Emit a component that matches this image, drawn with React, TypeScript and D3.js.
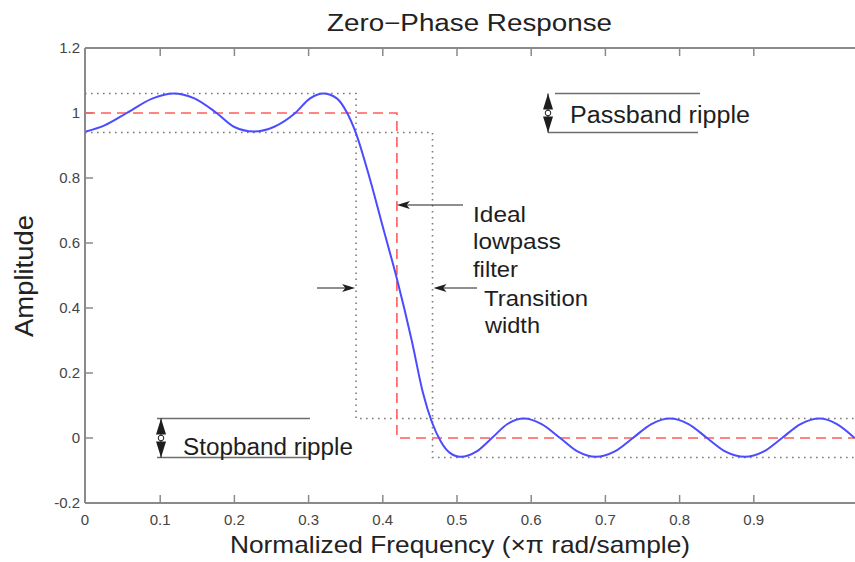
import React from "react";
import * as d3 from "d3";

// Zero-phase response samples
const freq = [0, 0.025, 0.055, 0.09, 0.118, 0.146, 0.176, 0.2, 0.226, 0.253, 0.282, 0.302, 0.32, 0.338, 0.352, 0.363, 0.383, 0.4, 0.419, 0.439, 0.454, 0.466, 0.478, 0.49, 0.505, 0.526, 0.547, 0.568, 0.59, 0.614, 0.639, 0.663, 0.687, 0.712, 0.737, 0.762, 0.787, 0.812, 0.837, 0.862, 0.888, 0.913, 0.938, 0.963, 0.989, 1.012, 1.036];
const amplitude = [0.943, 0.962, 1.0, 1.045, 1.06, 1.045, 1.0, 0.957, 0.943, 0.957, 1.0, 1.045, 1.06, 1.045, 1.0, 0.943, 0.794, 0.65, 0.49, 0.3, 0.14, 0.05, -0.01, -0.045, -0.058, -0.042, 0.0, 0.043, 0.06, 0.043, 0.0, -0.042, -0.058, -0.042, 0.0, 0.043, 0.06, 0.043, 0.0, -0.042, -0.058, -0.042, 0.0, 0.043, 0.06, 0.043, 0.0];

const xTicks = [0, 0.1, 0.2, 0.3, 0.4, 0.5, 0.6, 0.7, 0.8, 0.9];
const xTickLabels = ["0", "0.1", "0.2", "0.3", "0.4", "0.5", "0.6", "0.7", "0.8", "0.9"];
const yTicks = [-0.2, 0, 0.2, 0.4, 0.6, 0.8, 1, 1.2];
const yTickLabels = ["-0.2", "0", "0.2", "0.4", "0.6", "0.8", "1", "1.2"];

const passbandEdge = 0.364;
const cutoff = 0.419;
const stopbandEdge = 0.467;
const ripple = 0.06;

const W = 855;
const H = 562;
const FONT = "'Liberation Sans', Arial, Helvetica, sans-serif";

function arrowHead(tx: number, ty: number, dx: number, dy: number, len = 13, hw = 4) {
  const bx = tx - dx * len;
  const by = ty - dy * len;
  const px = -dy * hw;
  const py = dx * hw;
  return `${tx},${ty} ${bx + px},${by + py} ${tx - dx * len * 0.75},${ty - dy * len * 0.75} ${bx - px},${by - py}`;
}

export default function App() {
  const x = d3.scaleLinear().domain([0, 1]).range([86, 828]);
  const y = d3.scaleLinear().domain([-0.2, 1.2]).range([503, 48]);
  const left = 85;
  const right = W;
  const top = y(1.2);
  const bottom = y(-0.2);

  const pts: [number, number][] = freq.map((f, i) => [f, amplitude[i]]);
  const line = d3
    .line<[number, number]>()
    .x((d) => x(d[0]))
    .y((d) => y(d[1]))
    .curve(d3.curveMonotoneX);

  const ideal = `M${left},${y(1)} H${x(cutoff)} V${y(0)} H${right}`;
  const upperTol = `M${left},${y(1 + ripple)} H${x(passbandEdge)} V${y(ripple)} H${right}`;
  const lowerTol = `M${left},${y(1 - ripple)} H${x(stopbandEdge)} V${y(-ripple)} H${right}`;

  const axisColor = "#8a8a8a";
  const tickText = "#444";
  const textColor = "#222";
  const annColor = "#1e1e1e";
  const lineGray = "#6e6e6e";

  const doubleArrow = (cx: number, y1: number, y2: number) => {
    const mid = (y1 + y2) / 2;
    return (
      <g>
        <line x1={cx} x2={cx} y1={y1} y2={y2} stroke={annColor} strokeWidth={1} />
        <polygon points={`${cx},${y1} ${cx - 5},${y1 + 16} ${cx + 5},${y1 + 16}`} fill={annColor} />
        <polygon points={`${cx},${y2} ${cx - 5},${y2 - 16} ${cx + 5},${y2 - 16}`} fill={annColor} />
        <circle cx={cx} cy={mid} r={2.8} fill="#fff" stroke={annColor} strokeWidth={1} />
      </g>
    );
  };

  return (
    <svg
      width={W}
      height={H}
      style={{ position: "absolute", left: 0, top: 0, background: "#fff" }}
      fontFamily={FONT}
    >
      <rect x={0} y={0} width={W} height={H} fill="#fff" />

      {/* title */}
      <text x={469.5} y={31} textAnchor="middle" fontSize={23} fill={textColor} textLength={285} lengthAdjust="spacingAndGlyphs">
        Zero−Phase Response
      </text>

      {/* frame */}
      <line x1={left} x2={right} y1={top} y2={top} stroke={axisColor} strokeWidth={2} />
      <line x1={left} x2={right} y1={bottom} y2={bottom} stroke={axisColor} strokeWidth={2} />
      <line x1={left} x2={left} y1={top} y2={bottom} stroke={axisColor} strokeWidth={2} />

      {/* ticks */}
      {xTicks.map((t, i) => (
        <g key={"xt" + i}>
          {i > 0 && <line x1={x(t)} x2={x(t)} y1={bottom} y2={bottom - 8} stroke={axisColor} strokeWidth={1.5} />}
          {i > 0 && <line x1={x(t)} x2={x(t)} y1={top} y2={top + 8} stroke={axisColor} strokeWidth={1.5} />}
          <text x={i === 0 ? left : x(t)} y={525} textAnchor="middle" fontSize={15} fill={tickText}>
            {xTickLabels[i]}
          </text>
        </g>
      ))}
      {yTicks.map((t, i) => (
        <g key={"yt" + i}>
          {i > 0 && i < yTicks.length - 1 && (
            <line x1={left} x2={left + 8} y1={y(t)} y2={y(t)} stroke={axisColor} strokeWidth={1.5} />
          )}
          <text x={80} y={y(t)} dy="0.36em" textAnchor="end" fontSize={15} fill={tickText}>
            {yTickLabels[i]}
          </text>
        </g>
      ))}

      {/* axis labels */}
      <text x={460} y={553} textAnchor="middle" fontSize={24} fill={textColor} textLength={460} lengthAdjust="spacingAndGlyphs">
        Normalized Frequency (×π rad/sample)
      </text>
      <text
        transform={`translate(33,276) rotate(-90)`}
        textAnchor="middle"
        fontSize={25}
        fill={textColor}
        textLength={122}
        lengthAdjust="spacingAndGlyphs"
      >
        Amplitude
      </text>

      {/* tolerance (dotted) */}
      <path d={upperTol} fill="none" stroke="#7a7a7a" strokeWidth={1.6} strokeDasharray="1.6,4.4" />
      <path d={lowerTol} fill="none" stroke="#7a7a7a" strokeWidth={1.6} strokeDasharray="1.6,4.4" />

      {/* ideal lowpass (dashed red) */}
      <path d={ideal} fill="none" stroke="#ff5c5c" strokeWidth={1.6} strokeDasharray="10,6" />

      {/* response */}
      <path d={line(pts) ?? ""} fill="none" stroke="#4b4bff" strokeWidth={2} />

      {/* passband ripple annotation */}
      <line x1={555} x2={700} y1={y(1 + ripple)} y2={y(1 + ripple)} stroke={lineGray} strokeWidth={1.5} />
      <line x1={548} x2={698} y1={y(1 - ripple)} y2={y(1 - ripple)} stroke={lineGray} strokeWidth={1.5} />
      {doubleArrow(548, y(1 + ripple), y(1 - ripple))}
      <text x={570} y={123} fontSize={23} fill={annColor} textLength={180} lengthAdjust="spacingAndGlyphs">
        Passband ripple
      </text>

      {/* stopband ripple annotation */}
      <line x1={157} x2={310} y1={y(ripple)} y2={y(ripple)} stroke={lineGray} strokeWidth={1.5} />
      <line x1={157} x2={310} y1={y(-ripple)} y2={y(-ripple)} stroke={lineGray} strokeWidth={1.5} />
      {doubleArrow(161, y(ripple), y(-ripple))}
      <text x={183} y={455} fontSize={23} fill={annColor} textLength={170} lengthAdjust="spacingAndGlyphs">
        Stopband ripple
      </text>

      {/* ideal lowpass filter annotation */}
      <line x1={463} x2={x(cutoff) + 6} y1={205} y2={205} stroke={annColor} strokeWidth={1} />
      <polygon points={arrowHead(x(cutoff), 205, -1, 0)} fill={annColor} />
      <text x={473} y={222} fontSize={22} fill={annColor} textLength={53} lengthAdjust="spacingAndGlyphs">Ideal</text>
      <text x={473} y={249} fontSize={22} fill={annColor} textLength={88} lengthAdjust="spacingAndGlyphs">lowpass</text>
      <text x={473} y={277} fontSize={22} fill={annColor} textLength={45} lengthAdjust="spacingAndGlyphs">filter</text>

      {/* transition width annotation */}
      <line x1={317} x2={x(passbandEdge) - 6} y1={288} y2={288} stroke={annColor} strokeWidth={1} />
      <polygon points={arrowHead(x(passbandEdge) - 1, 288, 1, 0)} fill={annColor} />
      <line x1={477} x2={x(stopbandEdge) + 6} y1={288} y2={288} stroke={annColor} strokeWidth={1} />
      <polygon points={arrowHead(x(stopbandEdge) + 1, 288, -1, 0)} fill={annColor} />
      <text x={484} y={306} fontSize={22} fill={annColor} textLength={104} lengthAdjust="spacingAndGlyphs">Transition</text>
      <text x={485} y={333} fontSize={22} fill={annColor} textLength={55} lengthAdjust="spacingAndGlyphs">width</text>
    </svg>
  );
}
